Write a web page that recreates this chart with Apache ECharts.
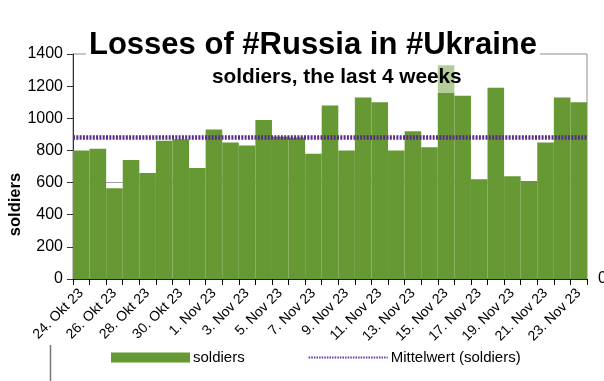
<!DOCTYPE html>
<html><head><meta charset="utf-8">
<script src="https://cdn.jsdelivr.net/npm/echarts@6/dist/echarts.min.js"></script>
<style>html,body{margin:0;padding:0;background:#fff}#c{width:604px;height:381px}</style>
</head><body><div id="c"></div>
<script>
const categories = ['24. Okt 23','25. Okt 23','26. Okt 23','27. Okt 23','28. Okt 23','29. Okt 23','30. Okt 23','31. Okt 23',
  '1. Nov 23','2. Nov 23','3. Nov 23','4. Nov 23','5. Nov 23','6. Nov 23','7. Nov 23','8. Nov 23','9. Nov 23','10. Nov 23',
  '11. Nov 23','12. Nov 23','13. Nov 23','14. Nov 23','15. Nov 23','16. Nov 23','17. Nov 23','18. Nov 23','19. Nov 23',
  '20. Nov 23','21. Nov 23','22. Nov 23','23. Nov 23'];
const soldiers = [800, 810, 565, 740, 660, 860, 870, 690, 930, 850, 830, 990, 885, 880, 780, 1080,
  800, 1130, 1100, 800, 920, 820, 1330, 1140, 620, 1190, 640, 610, 850, 1130, 1100];
const yMin = 0, yMax = 1400, yStep = 200;
const titleText = 'Losses of #Russia in #Ukraine';
const subtitleText = 'soldiers, the last 4 weeks';
const barName = 'soldiers';
const meanName = 'Mittelwert (soldiers)';

const FONT = '"Liberation Sans", Arial, sans-serif';
const chart = echarts.init(document.getElementById('c'), null, {renderer: 'canvas'});
chart.setOption({
  animation: false,
  backgroundColor: '#fff',
  title: [
    {text: titleText, left: 86, top: 28, padding: [2, 3, 1, 3], backgroundColor: '#fff',
     textStyle: {fontFamily: FONT, fontSize: 31, fontWeight: 'bold', color: '#000'}},
    {text: subtitleText, left: 209, top: 63, padding: [4, 3, 5, 3], backgroundColor: 'rgba(255,255,255,0.5)',
     textStyle: {fontFamily: FONT, fontSize: 20.8, fontWeight: 'bold', color: '#000'}}
  ],
  grid: {left: 73, right: 17, top: 54, bottom: 102, containLabel: false, outerBoundsMode: 'none',
         show: true, borderColor: '#8c8c8c', borderWidth: 1},
  legend: {
    left: 106, top: 345, itemWidth: 79, itemHeight: 10, itemGap: 63,
    textStyle: {fontFamily: FONT, fontSize: 15, color: '#000', padding: [0, 0, 0, -2]},
    data: [{name: barName, icon: 'rect'}, {name: meanName, itemStyle: {opacity: 0}}]
  },
  xAxis: {
    type: 'category', data: categories, boundaryGap: true,
    axisLine: {lineStyle: {color: '#222', width: 1}},
    axisTick: {show: true, interval: 0, length: 6, lineStyle: {color: '#000'}},
    axisLabel: {interval: 1, rotate: 45, fontSize: 14, margin: 12, color: '#000', fontFamily: FONT},
    splitLine: {show: false}
  },
  yAxis: [
    {type: 'value', min: yMin, max: yMax, interval: yStep,
     name: 'soldiers', nameLocation: 'middle', nameGap: 49, nameRotate: 90, nameMoveOverlap: false,
     nameTextStyle: {fontFamily: FONT, fontSize: 16.5, fontWeight: 'bold', color: '#000', padding: [0, 76, 0, 0]},
     axisLine: {show: true, lineStyle: {color: '#333'}},
     axisTick: {show: true, length: 6, lineStyle: {color: '#333'}},
     axisLabel: {fontSize: 16, color: '#000', fontFamily: FONT, margin: 10, formatter: v => String(v)},
     splitLine: {show: true, lineStyle: {color: ['rgba(0,0,0,0)', 'rgba(0,0,0,0)', 'rgba(0,0,0,0)', '#a0a0a0',
        'rgba(0,0,0,0)', 'rgba(0,0,0,0)', 'rgba(0,0,0,0)', 'rgba(0,0,0,0)']}}},
    {type: 'value', position: 'right', min: yMin, max: yMax, interval: yMax,
     axisLine: {show: false}, axisTick: {show: false}, splitLine: {show: false},
     axisLabel: {fontSize: 16, color: '#000', fontFamily: FONT, margin: 11,
       formatter: v => (v === 0 ? '0' : '')}}
  ],
  series: [
    {name: barName, type: 'bar', data: soldiers, barCategoryGap: '0%',
     itemStyle: {color: '#669933'},
     markLine: {silent: true, symbol: 'none', label: {show: false},
       lineStyle: {color: '#5a2a8c', width: 4.5, type: [2, 1.3]},
       emphasis: {disabled: true},
       data: [{type: 'average'}]}},
    {name: meanName, type: 'line', data: [], symbol: 'none',
     itemStyle: {opacity: 0},
     lineStyle: {color: '#6a32a8', width: 2.5, type: [1.5, 1.1]}}
  ],
  graphic: [
    {type: 'line', shape: {x1: 50.5, y1: 345, x2: 50.5, y2: 381}, style: {stroke: '#777', lineWidth: 1.5}}
  ]
});
</script></body></html>
